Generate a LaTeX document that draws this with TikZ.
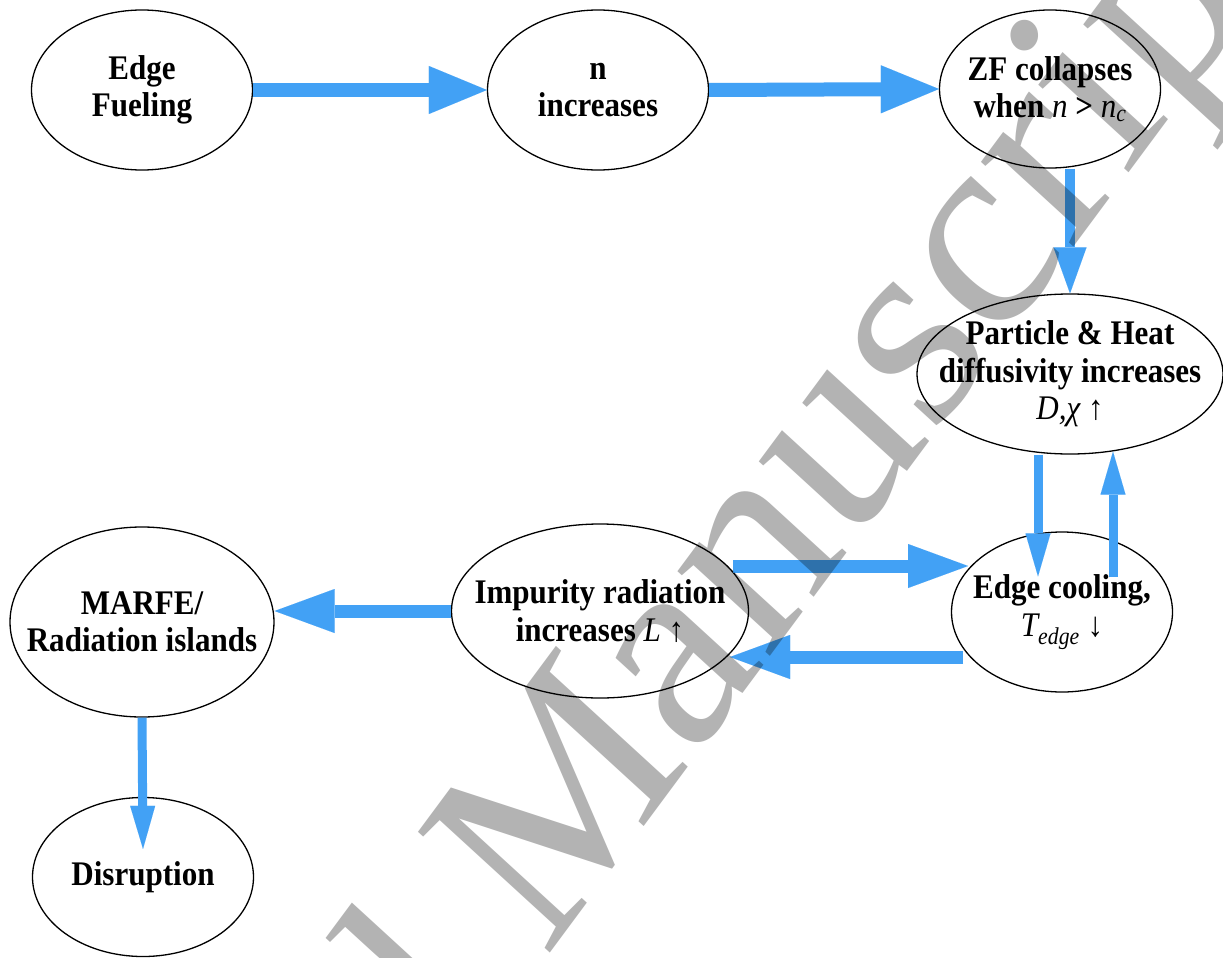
\documentclass[tikz,border=0pt]{standalone}
\usepackage{fontspec}
\setmainfont{Liberation Serif}[FakeStretch=0.9]
\newfontfamily\wmfont{Liberation Serif}
\usetikzlibrary{arrows.meta,shapes.geometric}
\definecolor{arrowblue}{RGB}{66,161,245}
\definecolor{wmgray}{RGB}{179,179,179}
\tikzset{
  bubble/.style={ellipse, draw=black, line width=1.3pt, inner sep=0pt},
  txt/.style={align=center, inner sep=0pt, font=\fontsize{34.5}{37.5}\selectfont\bfseries},
  harrow/.style={draw=arrowblue, line width=14pt, -{Triangle[width=48pt,length=58pt,line width=0.01pt]}},
  marrow/.style={draw=arrowblue, line width=13pt, -{Triangle[width=44pt,length=60pt,line width=0.01pt]}},
  varrow/.style={draw=arrowblue, line width=10pt, -{Triangle[width=33pt,length=46pt,line width=0.01pt]}},
  sarrow/.style={draw=arrowblue, line width=9pt, -{Triangle[width=25pt,length=43pt,line width=0.01pt]}},
  wm/.style={inner sep=0pt, text=wmgray, font=\wmfont\fontsize{290}{290}\selectfont}
}
\begin{document}
\begin{tikzpicture}[x=1pt,y=-1pt]
\useasboundingbox (0,0) rectangle (1223,958);
\fill[white] (0,0) rectangle (1223,958);

% ellipses
\node[bubble, minimum width=221, minimum height=160] (e1) at (142,90) {};
\node[bubble, minimum width=221, minimum height=160] (e2) at (598,90) {};
\node[bubble, minimum width=221, minimum height=158] (e3) at (1050,89) {};
\node[bubble, minimum width=306, minimum height=160] (e4) at (1070,374) {};
\node[bubble, minimum width=221, minimum height=160] (e5) at (1062,612) {};
\node[bubble, minimum width=297, minimum height=174] (e6) at (600,611) {};
\node[bubble, minimum width=264, minimum height=190] (e7) at (142,622) {};
\node[bubble, minimum width=221, minimum height=159] (e8) at (143,877) {};

% texts
\node[txt] (t1) at (e1) {Edge\\Fueling};
\node[txt] (t2) at (e2) {n\\increases};
\node[txt] (t3) at (e3) {ZF collapses\\when {\mdseries\itshape n} > {\mdseries\itshape n\textsubscript{c}}};
\node[txt] (t4) at (e4) {Particle \& Heat\\diffusivity increases\\{\mdseries\itshape D,χ} {\mdseries ↑}};
\node[txt] (t5) at (e5) {Edge cooling,\\{\mdseries\itshape T\textsubscript{edge}} {\mdseries ↓}};
\node[txt] (t6) at (e6) {Impurity radiation\\increases {\mdseries\itshape L} {\mdseries ↑}};
\node[txt] (t7) at (e7) {MARFE/\\Radiation islands};
\node[txt] (t8) at (e8) {Disruption};

% connectors
\draw[harrow] (e1.east) -- (e2.west);
\draw[harrow] (e2.east) -- (e3.west);
\draw[varrow] (e3.south -| e4.north) -- (e4.north);
\draw[sarrow] ([xshift=-32pt]e4.south) -- ([shift={(-24,45)}]e5.north);
\draw[sarrow] ([shift={(51,46)}]e5.north) -- ([xshift=43pt,yshift=3pt]e4.south);
\draw[marrow] ([shift={(133,-45)}]e6.center) -- ([shift={(-94,-46)}]e5.center);
\draw[marrow] ([shift={(-99,45)}]e5.center) -- ([shift={(130,46)}]e6.center);
\draw[marrow] (e6.west) -- (e6.west -| e7.east);
\draw[sarrow] (e7.south) -- ([shift={(0,52)}]e8.north);

% watermark
\begin{scope}[blend mode=multiply]
\clip (0,0) rectangle (1223,958);
\begin{scope}[shift={(545,960)}, xscale=0.9, rotate=50.5]
\node[wm, anchor=base west, transform shape] (wmk) at (0,0) {\llap{Accepted }Manuscript};
\end{scope}
\end{scope}
\end{tikzpicture}
\end{document}
